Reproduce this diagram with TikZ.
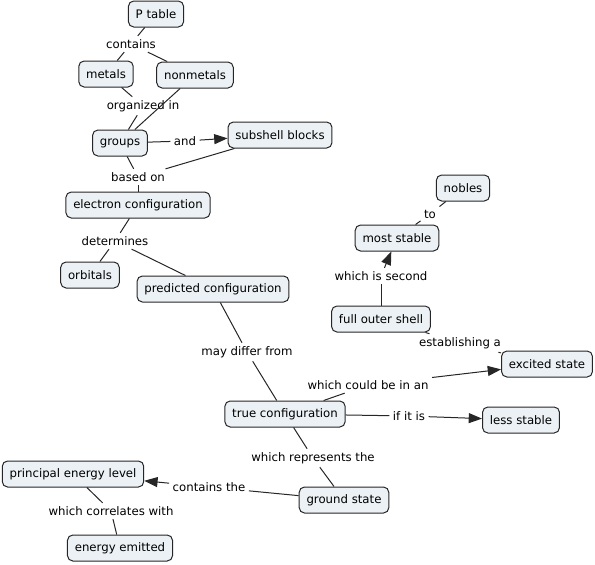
\documentclass[tikz,border=0pt]{standalone}
\usepackage{fontspec}
\setmainfont{DejaVu Sans}
\usetikzlibrary{arrows.meta}
\definecolor{conceptfill}{RGB}{235,241,244}

\begin{document}
\begin{tikzpicture}[x=0.75pt, y=-0.75pt, font=\fontsize{8.8}{10.5}\selectfont,
	concept/.style={draw=black!85, fill=conceptfill, line width=0.75pt,
		rounded corners=4pt, inner xsep=5.5pt, minimum height=19.5pt},
	phrase/.style={inner sep=2.5pt},
	link/.style={line width=0.75pt, black!85},
	toarrow/.style={link, -{Triangle[length=10pt, width=7.5pt]}}]
	\useasboundingbox (0, 0) rectangle (595, 564);
	% concepts
	\node[concept] (ptable) at (156, 14) {P table};
	\node[concept] (metals) at (106, 74) {metals};
	\node[concept] (nonmetals) at (195, 75) {nonmetals};
	\node[concept] (groups) at (120, 143) {groups};
	\node[concept] (subshell) at (280, 135) {subshell blocks};
	\node[concept] (econfig) at (138, 205) {electron configuration};
	\node[concept] (orbitals) at (90, 275) {orbitals};
	\node[concept] (predicted) at (213, 289) {predicted configuration};
	\node[concept] (nobles) at (463, 188) {nobles};
	\node[concept] (moststable) at (397, 238) {most stable};
	\node[concept] (fullshell) at (381, 319) {full outer shell};
	\node[concept] (excited) at (547, 364) {excited state};
	\node[concept] (trueconfig) at (285, 414) {true configuration};
	\node[concept] (lessstable) at (521, 420) {less stable};
	\node[concept] (principal) at (73, 474) {principal energy level};
	\node[concept] (ground) at (344, 500) {ground state};
	\node[concept] (emitted) at (120, 548) {energy emitted};
	% linking phrases
	\node[phrase] (contains) at (131, 44) {contains};
	\node[phrase] (organized) at (143, 106) {organized in};
	\node[phrase] (and) at (185, 141) {and};
	\node[phrase] (basedon) at (138, 177) {based on};
	\node[phrase] (determines) at (115, 241) {determines};
	\node[phrase] (differ) at (247, 352) {may differ from};
	\node[phrase] (second) at (381, 276) {which is second};
	\node[phrase] (to) at (430, 214) {to};
	\node[phrase] (establishing) at (460, 343) {establishing a};
	\node[phrase] (couldbe) at (368, 385) {which could be in an};
	\node[phrase] (ifitis) at (409, 416) {if it is};
	\node[phrase] (represents) at (313, 458) {which represents the};
	\node[phrase] (containsthe) at (209, 487) {contains the};
	\node[phrase] (correlates) at (111, 511) {which correlates with};
	% connectors
	\draw[link] (ptable) -- (contains);
	\draw[link] (contains) -- (metals);
	\draw[link] (contains) -- (nonmetals);
	\draw[link] (metals) -- (organized);
	\draw[link] (organized) -- (groups);
	\draw[link] (nonmetals) -- (groups);
	\draw[link] (groups) -- (and);
	\draw[toarrow] (and) -- (subshell);
	\draw[link] (groups) -- (basedon);
	\draw[link] (subshell) -- (basedon);
	\draw[link] (basedon) -- (econfig);
	\draw[link] (econfig) -- (determines);
	\draw[link] (determines) -- (orbitals);
	\draw[link] (determines) -- (predicted);
	\draw[link] (predicted) -- (differ);
	\draw[link] (differ) -- (trueconfig);
	\draw[link] (trueconfig) -- (couldbe);
	\draw[toarrow] (couldbe) -- (excited);
	\draw[link] (fullshell) -- (establishing);
	\draw[link] (establishing) -- (excited);
	\draw[link] (fullshell) -- (second);
	\draw[toarrow] (second) -- (moststable);
	\draw[link] (moststable) -- (to);
	\draw[link] (to) -- (nobles);
	\draw[link] (trueconfig) -- (ifitis);
	\draw[toarrow] (ifitis) -- (lessstable);
	\draw[link] (trueconfig) -- (represents);
	\draw[link] (represents) -- (ground);
	\draw[link] (ground) -- (containsthe);
	\draw[toarrow] (containsthe) -- (principal);
	\draw[link] (principal) -- (correlates);
	\draw[link] (correlates) -- (emitted);
\end{tikzpicture}
\end{document}
